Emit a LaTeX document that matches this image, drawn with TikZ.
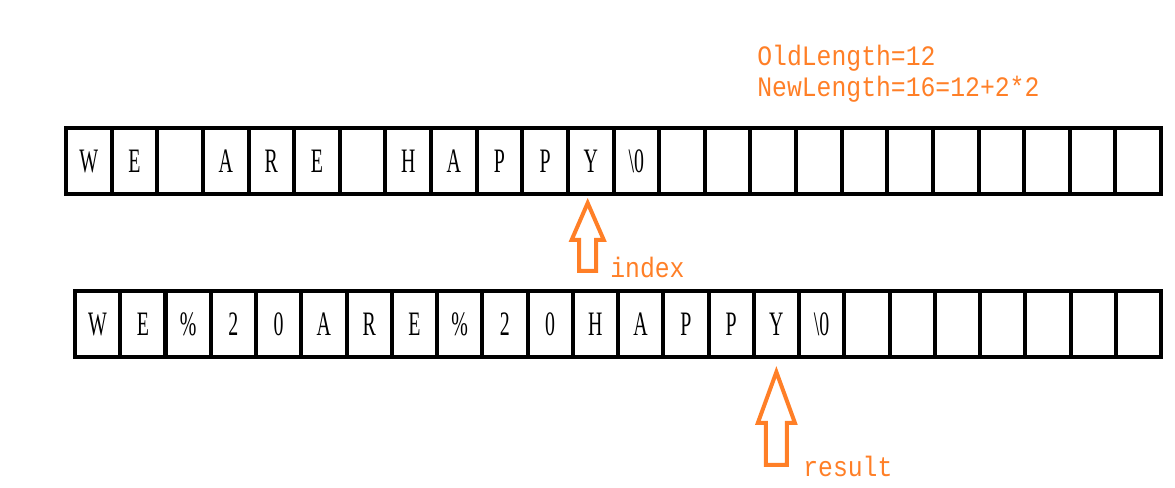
\documentclass[tikz,border=0pt]{standalone}
\usepackage{fontspec}
\usetikzlibrary{positioning,shapes.arrows,calc}
\newfontfamily\cellfont[FakeStretch=0.58]{Liberation Serif}
\newfontfamily\notefont[FakeStretch=0.88]{Liberation Mono}
\definecolor{paintorange}{RGB}{255,127,39}

\tikzset{
  cell/.style={draw=black,line width=0.8mm,minimum width=#1,minimum height=13.2mm,
               inner sep=0pt,outer sep=0pt,text height=4.4mm,text depth=0pt,
               font=\cellfont\fontsize{19.5}{20}\selectfont},
  note/.style={text=paintorange,inner sep=0pt,anchor=base west,
               font=\notefont\fontsize{16}{18}\selectfont},
  blockarrow/.style={single arrow,draw=paintorange,line width=0.8mm,rotate=90,
               anchor=tip,inner xsep=0pt,outer sep=0pt,single arrow head indent=0pt}
}

\begin{document}
\begin{tikzpicture}[x=0.02cm,y=-0.02cm]
    \useasboundingbox (0,0) rectangle (1175,487);
    % original string
    \foreach \ch [count=\i from 0] in {W,E,{},A,R,E,{},H,A,P,P,Y,\textbackslash 0,
                                       {},{},{},{},{},{},{},{},{},{},{}}{
        \node[cell=9.125mm] (t\i) at ({66+(\i+0.5)*45.625},161) {\ch};
    }
    % replaced string
    \foreach \ch [count=\i from 0] in {W,E,\%,2,0,A,R,E,\%,2,0,H,A,P,P,Y,\textbackslash 0,
                                       {},{},{},{},{},{},{}}{
        \node[cell=9.05mm] (b\i) at ({75+(\i+0.5)*45.25},324) {\ch};
    }
    % lengths
    \node[note] (oldlen) at (757,65) {OldLength=12};
    \node[note] (newlen) at (757,96) {NewLength=16=12+2*2};
    % pointers
    \node[blockarrow,minimum height=13.6mm,inner ysep=1.3mm,
          single arrow head extend=1.5mm,single arrow tip angle=47]
        (idx) at ($(t11.south)+(-3,9)$) {};
    \node[note] (idxlabel) at (610,277) {index};
    \node[blockarrow,minimum height=18.6mm,inner ysep=1.7mm,
          single arrow head extend=1.6mm,single arrow tip angle=40]
        (res) at ($(b15.south)+(0,15)$) {};
    \node[note] (reslabel) at (803,476) {result};
\end{tikzpicture}
\end{document}
